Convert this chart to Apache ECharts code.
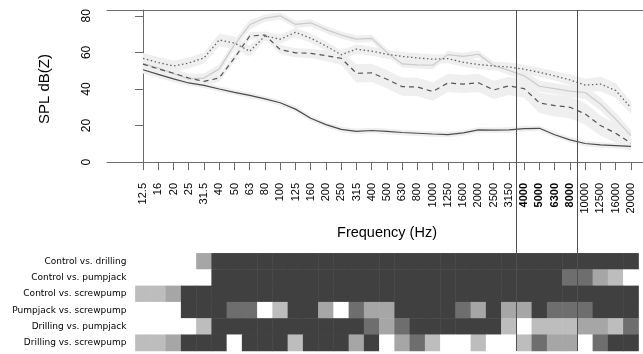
<!DOCTYPE html>
<html>
<head>
<meta charset="utf-8">
<script src="https://cdn.jsdelivr.net/npm/echarts@6/dist/echarts.min.js"></script>
<style>html,body{margin:0;padding:0;background:#fff}#c{width:643px;height:354px}</style>
</head>
<body>
<div id="c"></div>
<script>
// ---- data ----
const freqLabels = ['12.5','16','20','25','31.5','40','50','63','80','100','125','160','200','250','315','400','500','630','800','1000','1250','1600','2000','2500','3150','4000','5000','6300','8000','10000','12500','16000','20000'];
const boldLabels = ['4000','5000','6300','8000'];
const yTicks = [0, 20, 40, 60, 80];

const controlMean  = [50.5,48,45.5,43.3,42,40,38.2,36.5,34.6,32.5,29,24,20.5,17.9,16.8,17.3,16.8,16.2,15.8,15.4,15.1,16,17.6,17.5,17.6,18.3,18.5,15,12.2,10.2,9.4,9,8.6];
const pumpjackMean = [53.6,51,48.6,46,44.2,46,57,69,69.5,61.5,59.8,59.5,58.2,56.8,48.6,48.8,45.3,41.3,41.1,38.6,43.3,42.7,43.4,39.5,41.7,40.2,32.4,30.9,30,26.4,20,15.8,10.4];
const drillingMean = [56.7,54.5,52.6,54.2,57,66.8,65.2,60.6,69,67.2,71,67.8,63.5,58.7,61.8,60.7,59,57.8,57,56.3,56.6,54.6,53.4,52.6,52,50.8,49.1,47.2,45,42.1,42.7,39.2,29.8];
const screwpumpMean= [54,51.5,48.5,45.5,46,51,64.3,75.1,78.8,80,75.3,76.2,72.5,69.5,67.3,67.7,60,53.7,53.2,53,58.8,57.8,59,52.8,50.2,47.2,41.5,40.2,38.8,38.1,31.8,23.5,14.5];

const controlHW  = [2,2,1.8,1.5,1.5,1.5,1.5,1.5,1.5,1.5,1.5,1.5,1.5,1.5,1.5,1.5,1.5,1.5,1.5,1.5,1.5,1.5,1.5,1.5,1.5,1.5,1.5,1.5,1.5,1.5,1.5,1.5,1.5];
const pumpjackHW = [2,2,2,2,2,2,2,2,2,2.5,2.5,2.5,3,3.5,5,5,5,5,5,5,5,5,5,5,5,5,5.5,6,6,6,5.5,5,4];
const drillingHW = [3,3,3,3,3,3.5,3.5,3,2.5,2.5,2.5,2.5,2.5,2.5,2.5,2.5,2.5,2.5,2.5,2.5,2.5,2.5,2.5,2.5,2.5,2.5,2.5,2.5,3,3.5,4,4,3.5];
const screwpumpHW= [4,3.5,3,2.5,2.5,2.5,2.5,2.5,2,2,2,2,2,2,2,2,2,2,2,2,2,2,2,2,2.5,2.5,3,3,3,3.5,3.5,3.5,3];

const dividers = [24.5, 28.5];

const rowLabels = ['Control vs. drilling','Control vs. pumpjack','Control vs. screwpump','Pumpjack vs. screwpump','Drilling vs. pumpjack','Drilling vs. screwpump'];
// significance level per cell: 0 none ... 4 strongest
const sigControlDrilling   = [0,0,0,0,2,4,4,4,4,4,4,4,4,4,4,4,4,4,4,4,4,4,4,4,4,4,4,4,4,4,4,4,4];
const sigControlPumpjack   = [0,0,0,0,0,4,4,4,4,4,4,4,4,4,4,4,4,4,4,4,4,4,4,4,4,4,4,4,3,3,2,1,0];
const sigControlScrewpump  = [1,1,2,4,4,4,4,4,4,4,4,4,4,4,4,4,4,4,4,4,4,4,4,4,4,4,4,4,4,4,4,4,4];
const sigPumpjackScrewpump = [0,0,0,4,4,4,3,3,0,1,4,4,2,0,3,2,2,4,4,4,4,3,2,4,2,2,4,3,3,3,4,4,4];
const sigDrillingPumpjack  = [0,0,0,0,1,4,4,4,4,4,4,4,4,4,4,3,2,3,4,4,4,4,4,4,1,0,1,1,1,2,2,1,3];
const sigDrillingScrewpump = [1,1,2,4,4,4,0,4,4,4,1,4,4,4,2,4,0,2,3,1,0,0,1,0,0,1,3,2,2,0,3,4,4];
const sigRows = [sigControlDrilling, sigControlPumpjack, sigControlScrewpump, sigPumpjackScrewpump, sigDrillingPumpjack, sigDrillingScrewpump];

// ---- build ----
const idx = freqLabels.map((_, i) => i);
const FONT = 'Liberation Sans';
const BAND = '#efefef';
const AX = '#6a6a6a';
const xMin = -2.36, xMax = 32.79;

function bandSeries(mean, hw) {
  const data = mean.map((v, i) => [i, v - hw[i], v + hw[i]]);
  return {
    type: 'custom', xAxisIndex: 0, yAxisIndex: 0, data: data, silent: true, z: 1,
    encode: { x: 0, y: [1, 2] },
    renderItem: function (params, api) {
      if (params.dataIndex !== 0) return null;
      const top = data.map(d => api.coord([d[0], d[2]]));
      const bot = data.map(d => api.coord([d[0], d[1]])).reverse();
      return { type: 'polygon', shape: { points: top.concat(bot) }, style: { fill: BAND, stroke: null } };
    }
  };
}
function meanSeries(mean, color, type, width) {
  return { type: 'line', xAxisIndex: 0, yAxisIndex: 0, data: mean.map((v, i) => [i, v]), symbol: 'none',
    silent: true, lineStyle: { color: color, type: type, width: width }, z: 3 };
}

const heatData = [];
sigRows.forEach((row, r) => row.forEach((v, c) => heatData.push([c, r, v])));

const option = {
  animation: false,
  backgroundColor: '#fff',
  textStyle: { fontFamily: FONT },
  grid: [
    { left: 107, right: 0, top: 10, height: 158 },
    { left: 135.4, right: 4.4, top: 253.3, height: 97.7 },
    { left: 107, right: 0, top: 10, bottom: 3 }
  ],
  xAxis: [
    { type: 'value', gridIndex: 0, min: xMin, max: xMax, position: 'bottom',
      axisLine: { show: true, lineStyle: { color: AX } },
      splitLine: { show: false },
      axisTick: { show: true, length: 8, customValues: idx, lineStyle: { color: AX } },
      axisLabel: { customValues: idx, rotate: 90, margin: 15, fontSize: 11, color: '#000', fontFamily: FONT,
        formatter: v => { const l = freqLabels[Math.round(v)]; return boldLabels.includes(l) ? '{b|' + l + '}' : l; },
        rich: { b: { fontWeight: 'bold', fontSize: 11, fontFamily: FONT, color: '#000' } } },
      name: 'Frequency (Hz)', nameLocation: 'middle', nameGap: 57,
      nameTextStyle: { fontSize: 14.5, color: '#000', fontFamily: FONT, padding: [0, 0, 0, 24] } },
    { type: 'category', gridIndex: 1, data: freqLabels, show: false },
    { type: 'value', gridIndex: 2, min: xMin, max: xMax, show: false },
    { type: 'value', gridIndex: 0, min: xMin, max: xMax, position: 'top',
      axisLine: { show: true, lineStyle: { color: AX } }, axisTick: { show: false },
      axisLabel: { show: false }, splitLine: { show: false } }
  ],
  yAxis: [
    { type: 'value', gridIndex: 0, min: -3.2, max: 83.2,
      axisLine: { show: true, lineStyle: { color: AX } }, splitLine: { show: false },
      axisTick: { show: true, length: 8, customValues: yTicks, lineStyle: { color: AX } },
      axisLabel: { customValues: yTicks, rotate: 90, margin: 14, fontSize: 12, color: '#000', fontFamily: FONT },
      name: 'SPL dB(Z)', nameLocation: 'middle', nameRotate: 90, nameGap: 55,
      nameTextStyle: { fontSize: 15, color: '#000', fontFamily: FONT } },
    { type: 'category', gridIndex: 1, data: rowLabels, inverse: true,
      axisLine: { show: false }, axisTick: { show: false },
      axisLabel: { fontSize: 9, color: '#000', fontFamily: 'DejaVu Sans', margin: 9 } },
    { type: 'value', gridIndex: 2, min: 0, max: 1, show: false }
  ],
  visualMap: {
    type: 'piecewise', show: false, seriesIndex: 8, dimension: 2,
    pieces: [
      { value: 0, color: '#ffffff' },
      { value: 1, color: '#bdbdbd' },
      { value: 2, color: '#a6a6a6' },
      { value: 3, color: '#6e6e6e' },
      { value: 4, color: '#404040' }
    ]
  },
  series: [
    bandSeries(controlMean, controlHW),
    bandSeries(pumpjackMean, pumpjackHW),
    bandSeries(drillingMean, drillingHW),
    bandSeries(screwpumpMean, screwpumpHW),
    meanSeries(screwpumpMean, '#cbcbcb', 'solid', 1.2),
    meanSeries(pumpjackMean, '#555555', [5, 4], 1.2),
    meanSeries(drillingMean, '#666666', [1.5, 2.5], 1.3),
    meanSeries(controlMean, '#4d4d4d', 'solid', 1.2),
    { type: 'heatmap', xAxisIndex: 1, yAxisIndex: 1, data: heatData, silent: true,
      itemStyle: { borderWidth: 0 } },
    { type: 'line', xAxisIndex: 2, yAxisIndex: 2, data: [], silent: true, z: 5,
      markLine: { silent: true, symbol: 'none', animation: false,
        label: { show: false },
        lineStyle: { color: '#505050', width: 1, type: 'solid' },
        data: dividers.map(x => ({ xAxis: x })) } }
  ]
};
const chart = echarts.init(document.getElementById('c'), null, { renderer: 'canvas' });
chart.setOption(option);
</script>
</body>
</html>
